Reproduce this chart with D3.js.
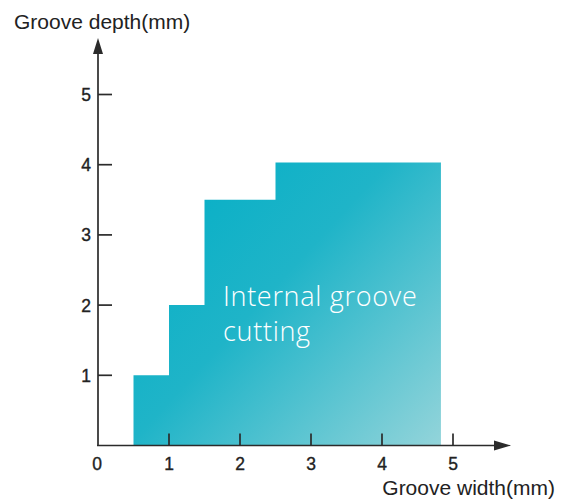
<!DOCTYPE html>
<html>
<head>
<meta charset="utf-8">
<script src="https://cdn.jsdelivr.net/npm/d3@7"></script>
<style>
  html, body { margin: 0; padding: 0; background: #fff; }
  svg { display: block; }
</style>
</head>
<body>
<svg id="chart" width="561" height="501"></svg>
<script>
// Step profile: groove width (mm) ranges and the maximum depth (mm) for each
const stepStart = [0.5, 1.0, 1.5, 2.5];
const stepEnd   = [1.0, 1.5, 2.5, 4.83];
const stepDepth = [1.0, 2.0, 3.5, 4.03];
const xTicks = [0, 1, 2, 3, 4, 5];
const yTicks = [1, 2, 3, 4, 5];
const xTitle = "Groove width(mm)";
const yTitle = "Groove depth(mm)";
const areaLabel = ["Internal groove", "cutting"];

const svg = d3.select("#chart");
const x = d3.scaleLinear().domain([0, 5]).range([98, 453]);
const y = d3.scaleLinear().domain([0, 5]).range([445.5, 94.5]);
const axisColor = "#2b2b2b";
const textFont = "'Liberation Sans', Arial, sans-serif";

// Gradient fill for the cutting region
const defs = svg.append("defs");
const grad = defs.append("linearGradient")
  .attr("id", "fillGrad")
  .attr("gradientUnits", "userSpaceOnUse")
  .attr("x1", x(0.5)).attr("y1", y(4.03))
  .attr("x2", x(4.83)).attr("y2", y(0));
grad.append("stop").attr("offset", "0").attr("stop-color", "#00aec6");
grad.append("stop").attr("offset", "0.45").attr("stop-color", "#1fb4c8");
grad.append("stop").attr("offset", "1").attr("stop-color", "#93d4da");

// Build the stepped outline from the step arrays
const pts = [[x(stepStart[0]), y(0)]];
stepStart.forEach((s, i) => {
  pts.push([x(s), y(stepDepth[i])]);
  pts.push([x(stepEnd[i]), y(stepDepth[i])]);
});
pts.push([x(stepEnd[stepEnd.length - 1]), y(0)]);
svg.append("path")
  .attr("d", d3.line()(pts) + "Z")
  .attr("fill", "url(#fillGrad)");

// Label inside the region
const lbl = svg.append("text")
  .attr("fill", "#fff")
  .attr("font-family", "'Open Sans', sans-serif")
  .attr("font-weight", 300)
  .attr("font-size", 27)
  .attr("letter-spacing", 0.7);
areaLabel.forEach((t, i) => {
  lbl.append("tspan").attr("x", 223).attr("y", 306 + i * 35).text(t);
});

// Axes
const axes = svg.append("g").attr("stroke", axisColor).attr("stroke-width", 1.7);
axes.append("line").attr("x1", x(0) - 1).attr("y1", y(0)).attr("x2", 500).attr("y2", y(0));
axes.append("line").attr("x1", x(0)).attr("y1", y(0)).attr("x2", x(0)).attr("y2", 50);

// Arrowheads
svg.append("path")
  .attr("d", `M${x(0)},38 L${x(0) - 5},54 L${x(0) + 5},54 Z`)
  .attr("fill", axisColor);
svg.append("path")
  .attr("d", `M511,${y(0)} L494,${y(0) - 5} L494,${y(0) + 5} Z`)
  .attr("fill", axisColor);

// X ticks (pointing up) and labels
xTicks.filter(d => d > 0).forEach(d => {
  axes.append("line")
    .attr("x1", x(d)).attr("x2", x(d))
    .attr("y1", y(0)).attr("y2", y(0) - 12);
});
svg.append("g").selectAll("text").data(xTicks).join("text")
  .attr("x", d => x(d) - (d === 0 ? 1 : 0))
  .attr("y", 470)
  .attr("text-anchor", "middle")
  .attr("font-family", textFont)
  .attr("font-size", 17.5)
  .attr("fill", "#222")
  .attr("stroke", "#222")
  .attr("stroke-width", 0.35)
  .text(d => d);

// Y ticks (pointing right) and labels
yTicks.forEach(d => {
  axes.append("line")
    .attr("x1", x(0)).attr("x2", x(0) + 14)
    .attr("y1", y(d)).attr("y2", y(d));
});
svg.append("g").selectAll("text").data(yTicks).join("text")
  .attr("x", 91)
  .attr("y", d => y(d) + 6.5)
  .attr("text-anchor", "end")
  .attr("font-family", textFont)
  .attr("font-size", 17.5)
  .attr("fill", "#222")
  .attr("stroke", "#222")
  .attr("stroke-width", 0.35)
  .text(d => d);

// Axis titles
svg.append("text")
  .attr("x", 14).attr("y", 29)
  .attr("font-family", textFont)
  .attr("font-size", 21)
  .attr("fill", "#222")
  .text(yTitle);
svg.append("text")
  .attr("x", 555).attr("y", 495)
  .attr("text-anchor", "end")
  .attr("font-family", textFont)
  .attr("font-size", 21)
  .attr("fill", "#222")
  .text(xTitle);
</script>
</body>
</html>
